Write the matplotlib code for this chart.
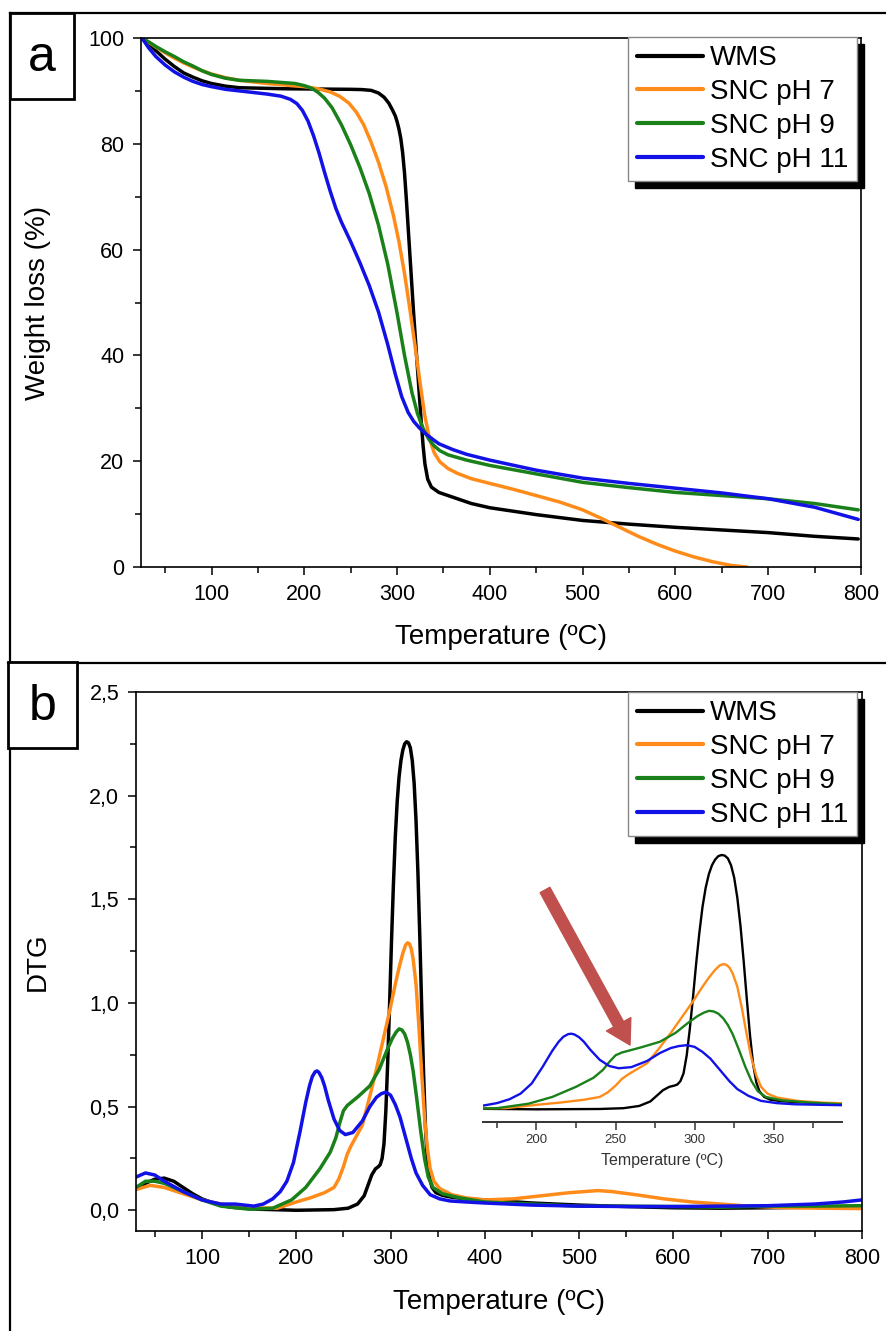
import matplotlib
matplotlib.use("Agg")
import matplotlib.pyplot as plt
from matplotlib.patches import Rectangle
from matplotlib.lines import Line2D
from matplotlib.ticker import MultipleLocator, FuncFormatter

plt.rcParams['font.family'] = ['Liberation Sans', 'DejaVu Sans']

# ---------------- data ----------------
series_names = ["WMS", "SNC pH 7", "SNC pH 9", "SNC pH 11"]
series_colors = ["#000000", "#ff8c1a", "#1a801a", "#1212e6"]

# TGA (weight %) vs temperature
tga_T_wms = [25, 32, 40, 50, 60, 70, 80, 90, 100, 115, 130, 180, 250, 262, 272, 280, 286, 291, 295, 298, 300,
             302, 304, 306, 308, 310, 312, 314, 316, 318, 320, 322, 324, 326, 328, 330, 333, 337, 345, 360,
             380, 400, 450, 500, 550, 600, 650, 700, 750, 797]
tga_wms = [100, 99, 97.6, 96, 94.6, 93.4, 92.6, 91.9, 91.4, 90.9, 90.6, 90.4, 90.3, 90.25, 90.1, 89.6, 88.8,
           87.7, 86.4, 85.3, 84.2, 82.8, 81, 78.3, 74.5, 69.5, 64, 58.5, 53, 47.5, 42.5, 37.5, 32.5, 27.5, 23,
           19.5, 16.6, 15.1, 14.1, 13.2, 12.0, 11.2, 9.9, 8.8, 8.1, 7.5, 7.0, 6.5, 5.8, 5.3]

tga_T_ph7 = [25, 32, 40, 50, 60, 70, 80, 90, 100, 115, 130, 160, 200, 215, 228, 238, 248, 256, 264, 272, 280,
             288, 296, 302, 308, 314, 320, 325, 330, 335, 340, 346, 355, 365, 380, 400, 425, 450, 475, 500,
             520, 540, 560, 580, 600, 620, 640, 660, 677]
tga_ph7 = [100, 99.2, 98.3, 97.2, 96.2, 95.3, 94.5, 93.8, 93.2, 92.5, 92.0, 91.4, 90.8, 90.4, 89.8, 89.0, 87.7,
           86.0, 83.6, 80.3, 76.5, 72, 66.5, 61.5, 55.5, 48.5, 41, 34.5, 28.5, 24.2, 21.6, 19.9, 18.6, 17.7,
           16.7, 15.8, 14.7, 13.5, 12.3, 10.8, 9.2, 7.5, 5.8, 4.3, 3.0, 1.9, 1.0, 0.3, 0.0]

tga_T_ph9 = [25, 32, 40, 50, 60, 70, 80, 90, 100, 115, 130, 160, 190, 200, 208, 215, 222, 230, 240, 250, 260,
             270, 280, 290, 300, 308, 316, 322, 328, 334, 340, 346, 355, 375, 400, 450, 500, 550, 600, 650,
             700, 750, 797]
tga_ph9 = [100, 99.3, 98.4, 97.4, 96.5, 95.5, 94.7, 93.8, 93.1, 92.4, 92.0, 91.8, 91.4, 91.0, 90.5, 89.7, 88.6,
           86.8, 83.6, 79.8, 75.5, 70.6, 64.6, 57.2, 48.0, 40.0, 33.0, 29.0, 26.2, 24.2, 22.9, 22.0, 21.2,
           20.2, 19.2, 17.6, 16.0, 15.0, 14.1, 13.5, 12.9, 12.0, 10.8]

tga_T_ph11 = [25, 32, 40, 50, 60, 70, 80, 90, 100, 115, 130, 160, 175, 185, 192, 198, 204, 210, 216, 222, 228,
              234, 240, 250, 260, 270, 280, 290, 298, 305, 312, 318, 324, 330, 338, 345, 360, 375, 400, 450,
              500, 550, 600, 650, 700, 750, 797]
tga_ph11 = [100, 98.2, 96.5, 94.9, 93.6, 92.6, 91.8, 91.2, 90.8, 90.3, 90.0, 89.4, 89.0, 88.4, 87.6, 86.3,
            84.3, 81.5, 78.2, 74.5, 71, 67.8, 65.2, 61.5, 57.5, 53.2, 48.2, 42.0, 36.5, 32.2, 29.2, 27.5, 26.3,
            25.3, 24.2, 23.3, 22.2, 21.3, 20.2, 18.3, 16.8, 15.8, 14.9, 14.0, 12.9, 11.3, 9.0]

# DTG vs temperature
dtg_T_wms = [30, 40, 50, 60, 70, 80, 90, 100, 115, 130, 160, 200, 240, 255, 265, 272, 276, 280, 284, 287, 289,
             291, 293, 295, 297, 299, 301, 303, 305, 307, 309, 311, 313, 315, 317, 319, 321, 323, 325, 327, 329,
             331, 333, 335, 337, 339, 341, 344, 348, 355, 365, 380, 400, 450, 500, 550, 600, 650, 700, 750, 800]
dtg_wms = [0.10, 0.13, 0.15, 0.155, 0.14, 0.11, 0.08, 0.055, 0.03, 0.015, 0.005, 0.0, 0.003, 0.01, 0.03, 0.07,
           0.12, 0.17, 0.2, 0.21, 0.22, 0.25, 0.32, 0.48, 0.72, 1.0, 1.3, 1.57, 1.8, 1.97, 2.09, 2.17, 2.22,
           2.25, 2.26, 2.255, 2.23, 2.17, 2.06, 1.88, 1.63, 1.32, 0.98, 0.66, 0.4, 0.24, 0.16, 0.11, 0.085,
           0.072, 0.063, 0.055, 0.05, 0.035, 0.025, 0.018, 0.012, 0.01, 0.012, 0.015, 0.015]

dtg_T_ph7 = [30, 45, 60, 80, 100, 120, 150, 180, 200, 215, 230, 240, 245, 250, 254, 258, 264, 270, 278, 285,
             292, 299, 305, 309, 313, 316, 318, 320, 322, 324, 327, 330, 333, 336, 339, 342, 346, 352, 365, 380,
             400, 430, 460, 490, 520, 535, 560, 590, 620, 650, 680, 720, 760, 800]
dtg_ph7 = [0.10, 0.12, 0.11, 0.08, 0.05, 0.03, 0.012, 0.01, 0.04, 0.06, 0.085, 0.11, 0.15, 0.21, 0.27, 0.31,
           0.36, 0.41, 0.55, 0.68, 0.82, 0.96, 1.09, 1.17, 1.24, 1.28, 1.29, 1.285, 1.26, 1.21, 1.09, 0.89,
           0.66, 0.45, 0.3, 0.2, 0.14, 0.105, 0.075, 0.06, 0.05, 0.055, 0.07, 0.085, 0.095, 0.09, 0.075, 0.055,
           0.04, 0.03, 0.02, 0.012, 0.01, 0.008]

dtg_T_ph9 = [30, 40, 50, 60, 80, 100, 120, 150, 175, 195, 210, 225, 236, 242, 246, 250, 254, 258, 266, 278,
             288, 296, 302, 306, 309, 312, 315, 318, 321, 324, 328, 332, 336, 340, 345, 355, 373, 400, 450, 500,
             550, 600, 650, 700, 750, 800]
dtg_ph9 = [0.11, 0.14, 0.14, 0.13, 0.09, 0.05, 0.02, 0.005, 0.01, 0.05, 0.11, 0.2, 0.28, 0.35, 0.42, 0.48,
           0.505, 0.52, 0.55, 0.6, 0.68, 0.77, 0.83, 0.86, 0.875, 0.87, 0.85, 0.81, 0.75, 0.67, 0.53, 0.38,
           0.25, 0.16, 0.11, 0.08, 0.06, 0.04, 0.03, 0.02, 0.02, 0.018, 0.015, 0.02, 0.02, 0.022]

dtg_T_ph11 = [30, 40, 50, 60, 80, 100, 120, 135, 145, 155, 165, 175, 183, 190, 197, 204, 210, 214, 217, 220,
              222, 224, 227, 230, 234, 240, 246, 252, 260, 270, 278, 285, 290, 295, 300, 305, 310, 316, 322,
              327, 334, 342, 352, 363, 380, 400, 450, 500, 550, 600, 650, 700, 750, 780, 800]
dtg_ph11 = [0.16, 0.18, 0.17, 0.14, 0.09, 0.05, 0.03, 0.03, 0.025, 0.02, 0.03, 0.055, 0.09, 0.14, 0.23, 0.38,
            0.52, 0.6, 0.645, 0.668, 0.672, 0.665, 0.64, 0.6, 0.53, 0.44, 0.385, 0.365, 0.375, 0.43, 0.5,
            0.545, 0.562, 0.57, 0.555, 0.51, 0.45, 0.35, 0.25, 0.18, 0.12, 0.075, 0.055, 0.045, 0.04, 0.035,
            0.025, 0.02, 0.018, 0.018, 0.02, 0.022, 0.03, 0.04, 0.05]

tga_T = [tga_T_wms, tga_T_ph7, tga_T_ph9, tga_T_ph11]
tga_W = [tga_wms, tga_ph7, tga_ph9, tga_ph11]
dtg_T = [dtg_T_wms, dtg_T_ph7, dtg_T_ph9, dtg_T_ph11]
dtg_D = [dtg_wms, dtg_ph7, dtg_ph9, dtg_ph11]

x_ticks = [100, 200, 300, 400, 500, 600, 700, 800]
inset_ticks = [200, 250, 300, 350]

# ---------------- figure ----------------
W, H = 886, 1331
fig = plt.figure(figsize=(W / 100, H / 100), dpi=100)


def fbox(left, top, right, bottom):
    return [left / W, 1 - bottom / H, (right - left) / W, (bottom - top) / H]


def style_axes(ax):
    for s in ax.spines.values():
        s.set_linewidth(1.2)
    ax.tick_params(which='major', direction='out', length=6, width=1.1, labelsize=15.5, pad=6,
                   top=False, right=False)
    ax.tick_params(which='minor', direction='out', length=4, width=1.1, top=False, right=False)


def add_legend(ax, right_px, top_px):
    leg = ax.legend(loc='upper right', bbox_to_anchor=(right_px / W, 1 - top_px / H),
                    bbox_transform=fig.transFigure, borderaxespad=0, fontsize=20,
                    handlelength=2.4, handletextpad=0.25, labelspacing=0.28, borderpad=0.3,
                    fancybox=False, framealpha=1, edgecolor='#888888',
                    shadow={'ox': 5, 'oy': -5, 'facecolor': 'black', 'edgecolor': 'black', 'alpha': 1})
    leg.get_frame().set_linewidth(1.0)
    for ln in leg.get_lines():
        ln.set_linewidth(3)
    return leg


# ---- panel a ----
ax1 = fig.add_axes(fbox(141, 38, 861, 567))
for T, Wt, name, c in zip(tga_T, tga_W, series_names, series_colors):
    ax1.plot(T, Wt, color=c, lw=2.5, label=name, solid_capstyle='round', solid_joinstyle='round')
ax1.set_xlim(24, 800)
ax1.set_ylim(0, 100)
ax1.set_xticks(x_ticks)
ax1.xaxis.set_minor_locator(MultipleLocator(50))
ax1.yaxis.set_major_locator(MultipleLocator(20))
ax1.yaxis.set_minor_locator(MultipleLocator(10))
style_axes(ax1)
ax1.set_xlabel("Temperature (ºC)", fontsize=20)
ax1.set_ylabel("Weight loss (%)", fontsize=20)
ax1.xaxis.set_label_coords(0.5, (567 - 637) / 529)
ax1.xaxis.label.set_va('center')
ax1.yaxis.set_label_coords((38 - 141) / 720, 0.5)
ax1.yaxis.label.set_va('center')
add_legend(ax1, 857, 37)

# ---- panel b ----
ax2 = fig.add_axes(fbox(136, 692, 862, 1231))
for T, D, name, c in zip(dtg_T, dtg_D, series_names, series_colors):
    ax2.plot(T, D, color=c, lw=2.5, label=name, solid_capstyle='round', solid_joinstyle='round')
ax2.set_xlim(30, 800)
ax2.set_ylim(-0.1, 2.5)
ax2.set_xticks(x_ticks)
ax2.xaxis.set_minor_locator(MultipleLocator(50))
ax2.yaxis.set_major_locator(MultipleLocator(0.5))
ax2.yaxis.set_minor_locator(MultipleLocator(0.25))
ax2.yaxis.set_major_formatter(FuncFormatter(lambda v, p: f"{v:.1f}".replace('.', ',')))
style_axes(ax2)
ax2.set_xlabel("Temperature (ºC)", fontsize=20)
ax2.set_ylabel("DTG", fontsize=20)
ax2.xaxis.set_label_coords(0.5, (1231 - 1302) / 539)
ax2.xaxis.label.set_va('center')
ax2.yaxis.set_label_coords((38 - 136) / 726, 0.5)
ax2.yaxis.label.set_va('center')
add_legend(ax2, 857, 692)

# ---- inset ----
ax3 = fig.add_axes(fbox(482.7, 850.5, 841.7, 1121.7))
ax3.set_facecolor('none')
for T, D, c in zip(dtg_T, dtg_D, series_colors):
    ax3.plot(T, D, color=c, lw=1.7, solid_joinstyle='round')
ax3.set_xlim(166, 393)
ax3.set_ylim(-0.11, 2.3)
for s in ['top', 'right', 'left']:
    ax3.spines[s].set_visible(False)
ax3.spines['bottom'].set_linewidth(1.4)
ax3.spines['bottom'].set_color('#333333')
ax3.set_yticks([])
ax3.set_xticks(inset_ticks)
ax3.xaxis.set_minor_locator(MultipleLocator(25))
ax3.tick_params(which='major', direction='out', length=6, width=1.1, labelsize=9.5, colors='#333333', pad=3)
ax3.tick_params(which='minor', direction='out', length=4, width=1.1, colors='#333333')
ax3.set_xlabel("Temperature (ºC)", fontsize=11.5, color='#333333')
ax3.xaxis.set_label_coords(0.5, (1121.7 - 1160) / 271.2)
ax3.xaxis.label.set_va('center')

# red arrow
arrow_tail = (545, H - 890)
arrow_tip = (630, H - 1045)
ax3.annotate('', xy=arrow_tip, xytext=arrow_tail, xycoords='figure pixels', textcoords='figure pixels',
             arrowprops=dict(arrowstyle='simple,head_length=0.85,head_width=1.0,tail_width=0.4',
                             mutation_scale=20, color='#c0504d', shrinkA=0, shrinkB=0))

# ---- frame lines and panel label boxes ----
frame_lines = [((10, 886), (13, 13)), ((8, 886), (663, 663)), ((10, 10), (13, 1331))]
for xs, ys in frame_lines:
    fig.add_artist(Line2D([x / W for x in xs], [1 - y / H for y in ys], color='black', lw=1.6,
                          transform=fig.transFigure))

for lab, (l, t, r, b) in [("a", (10, 13, 74, 99)), ("b", (8, 662, 77, 748))]:
    fig.add_artist(Rectangle((l / W, 1 - b / H), (r - l) / W, (b - t) / H, transform=fig.transFigure,
                             facecolor='white', edgecolor='black', lw=2.0, zorder=5))
    fig.text((l + r) / 2 / W, 1 - ((t + b) / 2 + 2) / H, lab, fontsize=36, ha='center', va='center', zorder=6)

fig.savefig("out.png", dpi=100)
